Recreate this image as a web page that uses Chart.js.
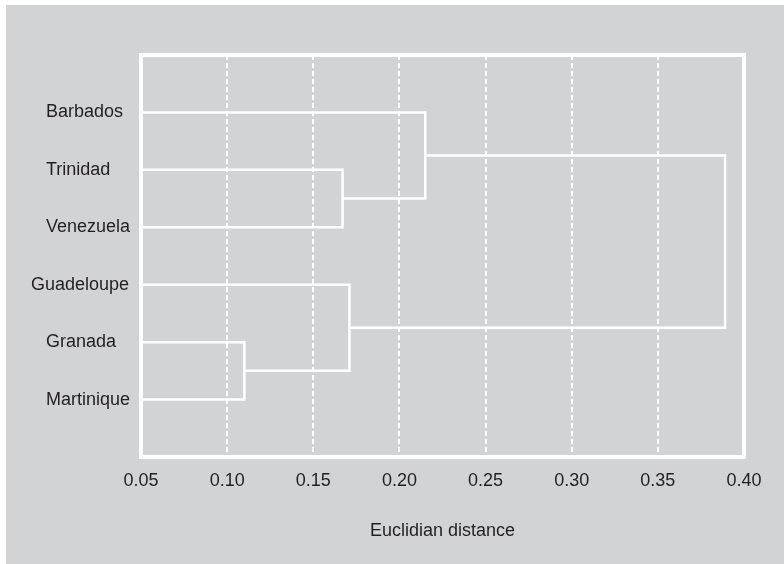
<!DOCTYPE html>
<html>
<head>
<meta charset="utf-8">
<script src="https://cdn.jsdelivr.net/npm/chart.js@4.4.1/dist/chart.umd.min.js"></script>
<style>
  body { margin: 0; background: #ffffff; }
  #wrap { position: absolute; left: 6px; top: 5px; width: 778px; height: 559px; background: #d1d3d4; }
</style>
</head>
<body>
<div id="wrap"><canvas id="dendro"></canvas></div>
<script>
// leaves, top to bottom
var leaves = ["Barbados", "Trinidad", "Venezuela", "Guadeloupe", "Granada", "Martinique"];
// linkage: nodes 0-5 are leaves, node 6+ are merges in this order
var linkA = [4, 1, 3, 0, 9];
var linkB = [5, 2, 6, 7, 8];
var linkHeight = [0.110, 0.167, 0.171, 0.215, 0.389];
var distanceTicks = [0.05, 0.10, 0.15, 0.20, 0.25, 0.30, 0.35, 0.40];

var textColor = "#231f20";
var white = "#ffffff";
var fontFamily = "'Liberation Sans', Arial, sans-serif";
var labelIndent = 19;    // where the left-aligned names start, inside the label column
var labelColumn = 114;   // width of the name column left of the frame

// node coordinates (x = distance, y = leaf slot)
var nodeX = [], nodeY = [];
leaves.forEach(function (name, i) {
    nodeX.push(distanceTicks[0]);
    nodeY.push(i + 1);
});
var datasets = [];
linkHeight.forEach(function (h, k) {
    var a = linkA[k], b = linkB[k];
    datasets.push({
        data: [
            { x: nodeX[a], y: nodeY[a] },
            { x: h, y: nodeY[a] },
            { x: h, y: nodeY[b] },
            { x: nodeX[b], y: nodeY[b] },
        ],
        borderColor: white,
        borderWidth: 2.5,
        pointRadius: 0,
        tension: 0,
        fill: false,
    });
    nodeX.push(h);
    nodeY.push((nodeY[a] + nodeY[b]) / 2);
});

// long names don't fit left-aligned, they get pushed against the frame instead
var measure = document.createElement("canvas").getContext("2d");
measure.font = "18px " + fontFamily;
function fitsLeft(name) {
    return measure.measureText(name).width <= labelColumn - labelIndent - 8;
}

Chart.defaults.font.family = fontFamily;
Chart.defaults.font.size = 18;
Chart.defaults.color = textColor;

var xMin = distanceTicks[0], xMax = distanceTicks[distanceTicks.length - 1];

function leafTicks(scale) {
    scale.ticks = leaves.map(function (l, i) { return { value: i + 1 }; });
}

var ctx = document.getElementById("dendro").getContext("2d");
var myChart = new Chart(ctx, {
    type: "line",
    data: { datasets: datasets },
    options: {
        responsive: true,
        maintainAspectRatio: false,
        animation: false,
        layout: { padding: { left: 21, right: 40, top: 50, bottom: 0 } },
        plugins: { legend: { display: false }, tooltip: { enabled: false } },
        scales: {
            x: {
                type: "linear",
                position: "bottom",
                min: xMin,
                max: xMax,
                afterBuildTicks: function (scale) {
                    scale.ticks = distanceTicks.map(function (v) { return { value: v }; });
                },
                afterFit: function (scale) { scale.height = 107; },
                ticks: {
                    autoSkip: false,
                    maxRotation: 0,
                    padding: 13,
                    callback: function (v) { return Number(v).toFixed(2); },
                },
                grid: {
                    drawTicks: false,
                    lineWidth: 2,
                    color: function (c) {
                        var n = distanceTicks.length;
                        return c.index === 0 || c.index === n - 1 ? "rgba(0,0,0,0)" : white;
                    },
                },
                border: { display: true, color: white, width: 4, dash: [5, 3] },
                title: {
                    display: true,
                    text: "Euclidian distance",
                    padding: { top: 0, bottom: 22 },
                },
            },
            xTop: {
                type: "linear",
                position: "top",
                min: xMin,
                max: xMax,
                ticks: { display: false },
                grid: { display: false, drawTicks: false },
                border: { display: true, color: white, width: 4 },
            },
            y: {
                // inner column: frame border + right-aligned long names
                type: "linear",
                position: "left",
                weight: 0,
                reverse: true,
                min: 0,
                max: leaves.length + 1,
                afterBuildTicks: leafTicks,
                afterFit: function (scale) { scale.width = labelColumn; },
                ticks: {
                    crossAlign: "near",
                    autoSkip: false,
                    padding: 12,
                    callback: function (v) {
                        var name = leaves[v - 1] || "";
                        return fitsLeft(name) ? "" : name;
                    },
                },
                grid: { display: false, drawTicks: false },
                border: { display: true, color: white, width: 4 },
            },
            yNames: {
                // outer zero-width axis, mirrored so the left-aligned names are not clipped
                type: "linear",
                position: "left",
                weight: 1,
                reverse: true,
                min: 0,
                max: leaves.length + 1,
                afterBuildTicks: leafTicks,
                afterFit: function (scale) { scale.width = 0; },
                ticks: {
                    mirror: true,
                    crossAlign: "near",
                    autoSkip: false,
                    padding: labelIndent,
                    callback: function (v) {
                        var name = leaves[v - 1] || "";
                        return fitsLeft(name) ? name : "";
                    },
                },
                grid: { display: false, drawTicks: false },
                border: { display: false },
            },
            yRight: {
                type: "linear",
                position: "right",
                reverse: true,
                min: 0,
                max: leaves.length + 1,
                ticks: { display: false },
                grid: { display: false, drawTicks: false },
                border: { display: true, color: white, width: 4 },
            },
        },
    },
});
</script>
</body>
</html>
